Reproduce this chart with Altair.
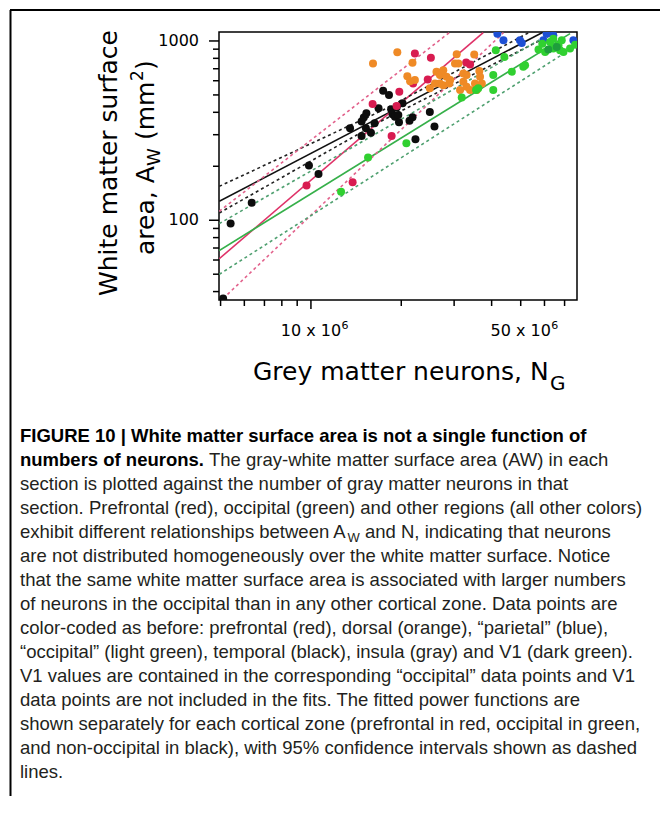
import altair as alt
import pandas as pd

# ---------------- data (N in millions of grey-matter neurons, A in mm^2) ----------------
temporal_N = [5.40, 6.35, 9.85, 10.6, 13.5, 14.75, 15.0, 15.3, 15.25, 15.85, 14.75, 16.3, 16.8, 17.4,
              18.2, 18.5, 18.7, 19.05, 19.55, 19.65, 19.3, 20.2, 21.3, 21.8, 22.3, 24.9, 25.8, 5.10]
temporal_A = [95.8, 125, 202, 181, 326, 355, 374, 395, 326, 308, 295, 347, 421, 528,
              499, 416, 390, 378, 386, 352, 426, 449, 359, 375, 283, 402, 333, 36.6]

prefrontal_N = [16.05, 18.57, 13.77, 19.7, 22.2, 25.1, 24.5, 21.9, 32.9, 33.9, 19.3, 9.67]
prefrontal_A = [445, 295, 163, 521, 851, 805, 610, 579, 758, 739, 434, 156]

dorsal_N = [16.1, 19.4, 21.8, 30.6, 35.0, 20.95, 21.4, 22.2, 26.2, 26.9, 27.6, 28.3, 26.9, 27.6, 29.1, 30.2,
            31.0, 32.2, 33.0, 36.4, 36.6, 37.1, 32.2, 33.0, 33.9, 31.4, 35.2, 35.7, 24.9, 25.9, 28.9]
dorsal_A = [748, 865, 755, 843, 840, 636, 597, 605, 673, 645, 687, 631, 579, 567, 605, 748,
            748, 659, 645, 681, 631, 579, 592, 555, 532, 532, 579, 532, 544, 579, 579]

parietal_N = [41.8, 43.8, 49.7, 50.4, 59.5, 74.9, 64.2, 61.0]
parietal_A = [1098, 1008, 1008, 974, 1008, 1008, 1075, 1098]

occipital_N = [12.6, 15.5, 20.8, 31.8, 35.5, 36.1, 40.5, 40.5, 41.3, 44.1, 46.7, 51.0, 51.7, 57.3, 59.0,
               62.6, 64.2, 66.8, 67.6, 64.2, 69.4, 73.0, 75.9, 68.5, 60.3]
occipital_A = [144, 224, 269, 483, 532, 544, 532, 645, 888, 815, 673, 717, 732, 895, 966,
               987, 1030, 946, 888, 907, 869, 907, 954, 1008, 869]

v1_N = [65.9, 61.8]
v1_A = [926, 895]

# fitted power functions and 95% confidence limits
fit_zone = ["non-occipital", "non-occipital", "non-occipital",
            "prefrontal", "prefrontal", "prefrontal",
            "occipital", "occipital", "occipital"]
fit_kind = ["fit", "upper", "lower", "fit", "upper", "lower", "fit", "upper", "lower"]
fit_N = [[4.95, 59.5], [4.95, 17.4, 53.7], [4.95, 17.4, 65.9],
         [4.95, 37.5], [4.95, 29.1], [5.10, 43.8],
         [4.95, 73.0], [4.95, 64.2], [4.95, 76.8]]
fit_A = [[127.5, 1122], [154.5, 412, 1122], [109.8, 362, 1122],
         [61.0, 1112], [112.2, 1122], [36.6, 1112],
         [67.8, 1098], [95.8, 1122], [49.9, 946]]

x_minor_ticks = [5, 6, 7, 8, 9, 20, 30, 40, 50, 60, 70]
x_major_ticks = [10]
x_label_vals = [10, 50]
x_label_main = ["10 x 10", "50 x 10"]
x_label_sup = ["6", "6"]
y_minor_ticks = [40, 50, 60, 70, 80, 90, 200, 300, 400, 500, 600, 700, 800, 900]
y_major_ticks = [100, 1000]
y_label_vals = [100, 1000]
y_label_text = ["100", "1000"]

caption_bold = ["FIGURE 10 | White matter surface area is not a single function of",
                "numbers of neurons."]
caption_line2_rest = "The gray-white matter surface area (AW) in each"
caption_lines_3_4 = ["section is plotted against the number of gray matter neurons in that",
                     "section. Prefrontal (red), occipital (green) and other regions (all other colors)"]
caption_line5 = ["exhibit different relationships between A", "W", "and N, indicating that neurons"]
caption_rest = ["are not distributed homogeneously over the white matter surface. Notice",
                "that the same white matter surface area is associated with larger numbers",
                "of neurons in the occipital than in any other cortical zone. Data points are",
                "color-coded as before: prefrontal (red), dorsal (orange), \u201cparietal\u201d (blue),",
                "\u201coccipital\u201d (light green), temporal (black), insula (gray) and V1 (dark green).",
                "V1 values are contained in the corresponding \u201coccipital\u201d data points and V1",
                "data points are not included in the fits. The fitted power functions are",
                "shown separately for each cortical zone (prefrontal in red, occipital in green,",
                "and non-occipital in black), with 95% confidence intervals shown as dashed",
                "lines."]

# ---------------- styles ----------------
regions = ["temporal", "prefrontal", "dorsal", "parietal", "occipital", "V1"]
region_colors = ["#0d0d0d", "#d81b50", "#ef8a26", "#1d4fd4", "#30d030", "#1e9e3c"]
zones = ["non-occipital", "prefrontal", "occipital"]
fit_colors = ["#111111", "#df3268", "#36b04a"]
ci_colors = ["#222222", "#e2628c", "#4fa070"]

AX_FONT = "DejaVu Sans"
CAP_FONT = "Liberation Sans"
CAP_COLOR = "#231f20"
CAP_SIZE = 18.5

W, H = 358, 268
xs = alt.Scale(type="log", domain=[4.94, 77.0])
ys = alt.Scale(type="log", domain=[35.9, 1122.0])


def X(f):
    return alt.X(f"{f}:Q", scale=xs, axis=None)


def Y(f):
    return alt.Y(f"{f}:Q", scale=ys, axis=None)


# ---------------- tables ----------------
rows = []
for reg, Ns, As in [("temporal", temporal_N, temporal_A), ("prefrontal", prefrontal_N, prefrontal_A),
                    ("dorsal", dorsal_N, dorsal_A), ("parietal", parietal_N, parietal_A),
                    ("occipital", occipital_N, occipital_A), ("V1", v1_N, v1_A)]:
    for n, a in zip(Ns, As):
        rows.append({"N": n, "A": a, "region": reg})
pts_df = pd.DataFrame(rows)

frows = []
for z, k, Ns, As in zip(fit_zone, fit_kind, fit_N, fit_A):
    for n, a in zip(Ns, As):
        frows.append({"N": n, "A": a, "zone": z, "kind": k, "line": f"{z}-{k}"})
fit_df = pd.DataFrame(frows)

# ---------------- layers ----------------
solid = alt.Chart(fit_df).transform_filter("datum.kind == 'fit'").mark_line(
    clip=True, strokeWidth=1.6).encode(
    x=X("N"), y=Y("A"), detail="line:N",
    color=alt.Color("zone:N", scale=alt.Scale(domain=zones, range=fit_colors), legend=None))

dashed = alt.Chart(fit_df).transform_filter("datum.kind != 'fit'").mark_line(
    clip=True, strokeWidth=1.6, strokeDash=[3, 3]).encode(
    x=X("N"), y=Y("A"), detail="line:N",
    color=alt.Color("zone:N", scale=alt.Scale(domain=zones, range=ci_colors), legend=None))

points = alt.Chart(pts_df).mark_circle(size=64, opacity=1, clip=True).encode(
    x=X("N"), y=Y("A"),
    color=alt.Color("region:N", scale=alt.Scale(domain=regions, range=region_colors), legend=None))

xminor = alt.Chart(pd.DataFrame({"v": x_minor_ticks})).mark_rule(color="black", strokeWidth=1.5).encode(
    x=X("v"), y=alt.value(H), y2=alt.value(H + 6))
xmajor = alt.Chart(pd.DataFrame({"v": x_major_ticks})).mark_rule(color="black", strokeWidth=1.5).encode(
    x=X("v"), y=alt.value(H), y2=alt.value(H + 9))
yminor = alt.Chart(pd.DataFrame({"v": y_minor_ticks})).mark_rule(color="black", strokeWidth=1.5).encode(
    y=Y("v"), x=alt.value(0), x2=alt.value(-6))
ymajor = alt.Chart(pd.DataFrame({"v": y_major_ticks})).mark_rule(color="black", strokeWidth=1.5).encode(
    y=Y("v"), x=alt.value(0), x2=alt.value(-10))

xlab = alt.Chart(pd.DataFrame({"v": x_label_vals, "t": x_label_main})).mark_text(
    font=AX_FONT, fontSize=16, align="center", baseline="alphabetic", color="black").encode(
    x=X("v"), y=alt.value(H + 36), text="t:N")
xsup = alt.Chart(pd.DataFrame({"v": x_label_vals, "t": x_label_sup})).mark_text(
    font=AX_FONT, fontSize=11, align="left", baseline="alphabetic", dx=30.5, color="black").encode(
    x=X("v"), y=alt.value(H + 29), text="t:N")
ylab = alt.Chart(pd.DataFrame({"v": y_label_vals, "t": y_label_text})).mark_text(
    font=AX_FONT, fontSize=16, align="right", baseline="middle", color="black").encode(
    y=Y("v"), x=alt.value(-20), text="t:N")


def txt(s, x, y, **kw):
    return alt.Chart(pd.DataFrame({"t": [s]})).mark_text(**kw).encode(
        x=alt.value(x), y=alt.value(y), text="t:N")


ax_kw = dict(font=AX_FONT, color="black", baseline="alphabetic")
titles = [
    txt("White matter surface", -102, 131, angle=270, align="center", fontSize=25, **ax_kw),
    txt("area, A", -65, 223, angle=270, align="left", fontSize=25, **ax_kw),
    txt("W", -65, 223, angle=270, align="left", fontSize=18, dx=89, dy=6, **ax_kw),
    txt("(mm", -65, 223, angle=270, align="left", fontSize=25, dx=115, **ax_kw),
    txt("2", -65, 223, angle=270, align="left", fontSize=17, dx=174, dy=-11, **ax_kw),
    txt(")", -65, 223, angle=270, align="left", fontSize=25, dx=185, **ax_kw),
    txt("Grey matter neurons, N", 34, 348, align="left", fontSize=25, **ax_kw),
    txt("G", 331, 358, align="left", fontSize=20, **ax_kw),
]

cap_kw = dict(font=CAP_FONT, fontSize=CAP_SIZE, align="left", baseline="alphabetic",
              lineBreak="\n", lineHeight=24)
CX = -199
CY = 410
caption = [
    txt("\n".join(caption_bold), CX, CY, fontWeight="bold", color="black", **cap_kw),
    txt(caption_line2_rest, -10, CY + 24, color=CAP_COLOR, **cap_kw),
    txt("\n".join(caption_lines_3_4), CX, CY + 48, color=CAP_COLOR, **cap_kw),
    txt(caption_line5[0], CX, CY + 96, color=CAP_COLOR, **cap_kw),
    txt(caption_line5[1], 128.5, CY + 100, color=CAP_COLOR, **{**cap_kw, "fontSize": 13}),
    txt(caption_line5[2], 146, CY + 96, color=CAP_COLOR, **cap_kw),
    txt("\n".join(caption_rest), CX, CY + 120, color=CAP_COLOR, **cap_kw),
]

border_df = pd.DataFrame({"k": [0]})
top_border = alt.Chart(border_df).mark_rule(color="black", strokeWidth=2).encode(
    x=alt.value(-209), x2=alt.value(441), y=alt.value(-22))
left_border = alt.Chart(border_df).mark_rule(color="black", strokeWidth=2).encode(
    x=alt.value(-208.5), y=alt.value(-22), y2=alt.value(770))

chart = alt.layer(
    solid, dashed, points, xminor, xmajor, yminor, ymajor, xlab, xsup, ylab,
    *titles, *caption, top_border, left_border
).resolve_scale(color="independent").properties(
    width=W, height=H, autosize="none",
    padding={"left": 211, "top": 24, "right": 83, "bottom": 496}
).configure_view(stroke="black", strokeWidth=1.5)

chart.save("out.html", embed_options={"renderer": "svg", "actions": False})
